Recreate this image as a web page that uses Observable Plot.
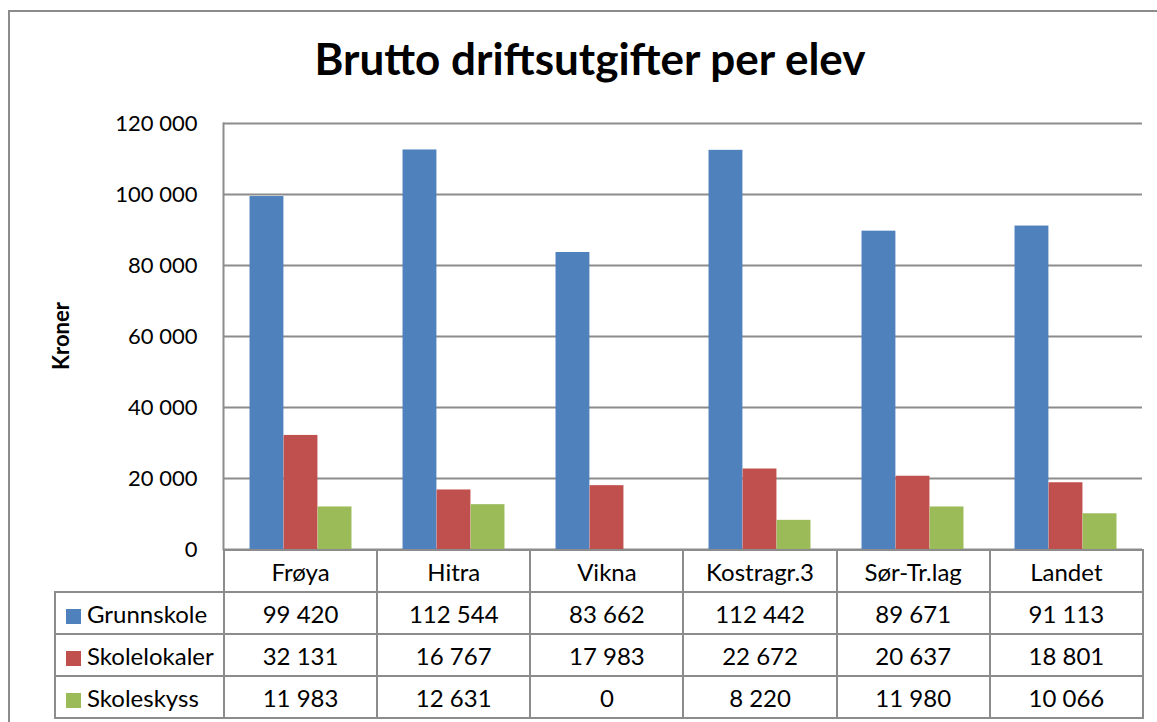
<!DOCTYPE html>
<html>
<head>
<meta charset="utf-8">
<script src="https://cdn.jsdelivr.net/npm/d3@7"></script>
<script src="https://cdn.jsdelivr.net/npm/@observablehq/plot@0.6"></script>
<style>
  html, body { margin: 0; padding: 0; background: #fff; overflow: hidden; }
  body { width: 1157px; height: 722px; position: relative; font-family: Lato, "Open Sans", sans-serif; }
  #frame { position: absolute; left: 8px; top: 10px; width: 1160px; height: 720px; border: 2px solid #8c8c8c; box-sizing: border-box; }
  #title { position: absolute; left: 240px; width: 700px; top: 32px; text-align: center; font-weight: bold; font-size: 44px; color: #000; }
  #chart { position: absolute; left: 0; top: 100px; }
  #ylabel { position: absolute; left: 60px; top: 336px; transform: translate(-50%, -50%) rotate(-90deg); font-weight: bold; font-size: 22px; }
  #tbl { position: absolute; left: 54px; top: 549px; border-collapse: collapse; table-layout: fixed; font-size: 24px; color: #000; }
  #tbl td { border: 2px solid #8c8c8c; height: 40px; padding: 0; text-align: center; white-space: nowrap; overflow: hidden; }
  #tbl td.blank { border-top: none; border-left: none; }
  #tbl td.leg { text-align: left; padding-left: 10px; }
  .sw { display: inline-block; width: 15px; height: 15px; margin-right: 6px; vertical-align: -1px; }
</style>
</head>
<body>
<div id="frame"></div>
<div id="title">Brutto driftsutgifter per elev</div>
<div id="ylabel">Kroner</div>
<div id="chart"></div>
<table id="tbl"></table>
<script>
const categories = ["Frøya", "Hitra", "Vikna", "Kostragr.3", "Sør-Tr.lag", "Landet"];
const series = ["Grunnskole", "Skolelokaler", "Skoleskyss"];
const grunnskole = [99420, 112544, 83662, 112442, 89671, 91113];
const skolelokaler = [32131, 16767, 17983, 22672, 20637, 18801];
const skoleskyss = [11983, 12631, 0, 8220, 11980, 10066];
const colors = ["#4F81BD", "#C0504D", "#9BBB59"];
const yTicks = [0, 20000, 40000, 60000, 80000, 100000, 120000];

const values = [grunnskole, skolelokaler, skoleskyss];
const data = [];
series.forEach((s, i) => categories.forEach((c, j) => data.push({category: c, series: s, value: values[i][j]})));

const fmt = d3.formatLocale({decimal: ",", thousands: " ", grouping: [3], currency: ["", ""]}).format(",");

const width = 1157, marginLeft = 223, marginRight = 15;
const bw = (width - marginLeft - marginRight) / categories.length;
const barW = bw * 2 / 9;
const outer = bw / 6;

const chart = Plot.plot({
  width, height: 464,
  marginLeft, marginRight, marginTop: 23, marginBottom: 15,
  x: {domain: categories, padding: 0, axis: null},
  y: {domain: [0, 120000], axis: null},
  color: {domain: series, range: colors},
  style: {fontFamily: "Lato, 'Open Sans', sans-serif", fontSize: "22px", color: "#000", background: "transparent"},
  marks: [
    Plot.ruleY(yTicks, {stroke: "#8c8c8c", strokeWidth: 2}),
    Plot.axisY(yTicks, {tickSize: 0, tickPadding: 26, tickFormat: fmt, label: null, fontSize: 22, fill: "#000"}),
    ...series.map((s, i) => Plot.barY(data.filter(d => d.series === s), {
      x: "category", y: "value", fill: "series",
      insetLeft: outer + i * barW, insetRight: bw - outer - (i + 1) * barW
    })),
    Plot.frame({anchor: "left", stroke: "#8c8c8c", strokeWidth: 2})
  ]
});
document.getElementById("chart").appendChild(chart);

// data table below the chart
const tbl = document.getElementById("tbl");
const colgroup = document.createElement("colgroup");
const c0 = document.createElement("col"); c0.style.width = (marginLeft - 54) + "px"; colgroup.appendChild(c0);
categories.forEach(() => { const c = document.createElement("col"); c.style.width = bw + "px"; colgroup.appendChild(c); });
tbl.appendChild(colgroup);
tbl.style.width = (marginLeft - 54 + bw * categories.length) + "px";
const head = document.createElement("tr");
const blank = document.createElement("td"); blank.className = "blank"; head.appendChild(blank);
categories.forEach(c => { const td = document.createElement("td"); td.textContent = c; head.appendChild(td); });
tbl.appendChild(head);
series.forEach((s, i) => {
  const tr = document.createElement("tr");
  const lg = document.createElement("td"); lg.className = "leg";
  const sw = document.createElement("span"); sw.className = "sw"; sw.style.background = colors[i];
  lg.appendChild(sw); lg.appendChild(document.createTextNode(s));
  tr.appendChild(lg);
  values[i].forEach(v => { const td = document.createElement("td"); td.textContent = fmt(v); tr.appendChild(td); });
  tbl.appendChild(tr);
});
</script>
</body>
</html>
